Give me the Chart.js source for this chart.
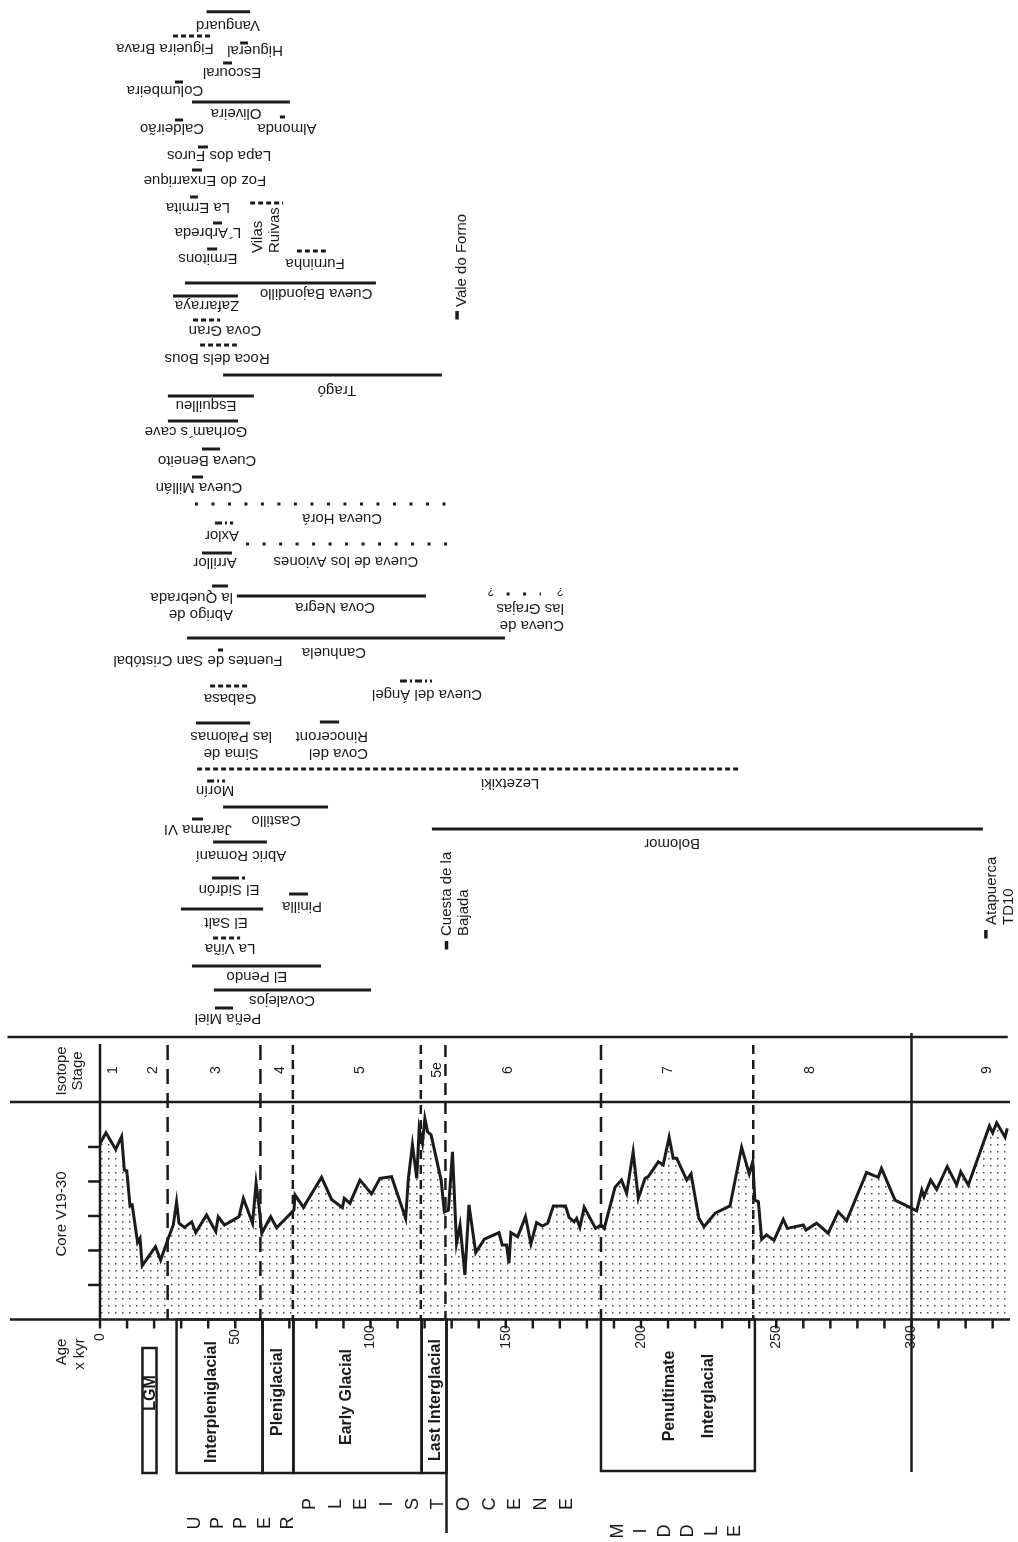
<!DOCTYPE html>
<html><head><meta charset="utf-8">
<script src="https://cdn.jsdelivr.net/npm/chart.js@4.4.1/dist/chart.umd.min.js"></script>
<style>html,body{margin:0;padding:0;background:#fff;}canvas{display:block;}</style>
</head><body>
<canvas id="c" width="1018" height="1542"></canvas>
<script>
// ---------- DATA ----------
// Core V19-30 isotope curve (age in kyr, relative value in tick units)
const coreAges = [0,2.2,5.8,8.0,9.0,9.9,11.1,11.9,13.9,14.8,15.6,20.5,22.4,25.0,27.1,28.3,29.2,31.2,33.9,35.4,39.4,42.8,43.7,46.0,51.4,53.0,56.4,57.7,58.8,59.8,63.1,65.3,71.7,72.1,75.2,81.9,85.6,89.6,90.3,92.4,96.1,100.4,103.5,107.8,113.0,114.0,115.5,117.1,118.0,119.2,120.1,121.1,122.4,126.1,127.3,128.8,130.3,131.8,133.1,134.9,136.4,138.9,142.1,147.5,148.7,150.3,151.2,151.9,154.4,157.3,159.3,161.4,163.5,165.5,167.6,172.1,173.4,175.3,176.2,177.4,179.0,183.2,185.2,186.4,190.4,192.8,194.7,197.1,199.0,201.5,202.7,206.4,208.2,210.4,211.9,213.2,216.9,218.5,221.4,223.3,227.4,232.9,237.2,240.0,241.3,242.1,243.4,244.6,246.4,249.2,252.6,254.1,260.0,261.0,264.9,269.2,272.9,276.0,283.4,287.7,288.9,293.9,299.4,301.9,303.8,304.6,307.1,309.3,313.2,316.7,318.2,321.0,328.8,330.0,331.5,334.6,335.4];
const coreValues = [5.10,5.41,4.93,5.30,4.33,4.31,3.29,3.32,2.23,2.35,1.56,2.11,1.72,2.30,2.74,3.41,2.79,2.67,2.83,2.52,3.03,2.55,2.98,2.74,2.98,3.51,2.79,3.95,3.27,2.50,2.98,2.66,3.17,3.61,3.25,4.12,3.48,3.24,3.51,3.37,4.04,3.64,4.09,4.14,2.93,4.09,5.06,4.09,5.54,5.11,5.83,5.44,5.35,4.04,3.12,3.17,4.86,2.21,2.74,1.29,3.32,1.94,2.33,2.52,2.16,2.16,1.63,2.52,2.40,2.98,2.19,2.81,2.71,2.79,3.29,3.29,2.96,2.83,2.93,2.67,3.25,2.64,2.74,2.64,3.83,4.04,3.66,4.86,3.51,4.09,4.14,4.57,4.48,5.28,4.67,4.67,4.04,4.22,2.93,2.69,3.08,3.29,4.99,4.22,4.57,3.46,3.41,2.32,2.45,2.30,2.90,2.64,2.74,2.59,2.79,2.50,3.12,2.86,4.26,4.12,4.38,3.46,3.25,3.15,3.75,3.56,4.04,3.77,4.43,3.90,4.28,3.90,5.61,5.41,5.70,5.28,5.54];
const coreTicks = [1,2,3,4,5];

// Isotope stages
const stageNames = ['1','2','3','4','5','5e','6','7','8','9'];
const stageLabelAges = [4.8,19.6,43.0,66.5,96.0,124.6,150.8,210.0,262.5,328.0];
const stageBounds = [25.0,59.3,71.3,118.6,127.7,185.2,241.5];
const stageBoundKind = ['long','long','short','short','mid','long','short'];

// Age axis
const ageTickLabels = [0,50,100,150,200,250,300];

// Climatic periods
const periodNames = ['LGM','Interpleniglacial','Pleniglacial','Early Glacial','Last Interglacial','Penultimate|Interglacial'];
const periodFrom = [15.7,28.3,60.1,71.5,118.9,185.2];
const periodTo   = [20.9,60.1,71.5,118.9,128.1,242.1];

// Chronological words
const eraWords = ['UPPER','PLEISTOCENE','MIDDLE'];

// Sites: name, age range (kyr), row in the stack, line style
const siteNames = ['Vanguard','Figueira Brava','Higueral','Escoural','Columbeira','Oliveira','Almonda','Caldeirão','Lapa dos Furos','Foz do Enxarrique','La Ermita','Vilas Ruivas','L\u00B4Arbreda','Ermitons','Furninha','Vale do Forno','Cueva Bajondillo','Zafarraya','Cova Gran','Roca dels Bous','Tragó','Esquilleu','Gorham\u00B4s cave','Cueva Beneito','Cueva Millán','Cueva Horá','Axlor','Cueva de los Aviones','Arrillor','Abrigo de la Quebrada','Cova Negra','Cueva de las Grajas','Canhuela','Fuentes de San Cristóbal','Cueva del Ángel','Gabasa','Sima de las Palomas','Cova del Rinoceront','Lezetxiki','Morín','Castillo','Jarama VI','Bolomor','Abric Romaní','El Sidrón','Pinilla','El Salt','Cuesta de la Bajada','La Viña','El Pendo','Covalejos','Peña Miel','Atapuerca TD10'];
const siteFrom = [39.4,27.0,51.8,45.5,27.7,34.0,66.5,27.7,36.2,34.0,33.3,55.5,41.8,39.6,72.8,132.0,31.4,27.0,34.4,37.0,45.5,25.1,25.1,37.7,34.0,35.1,42.5,54.0,37.7,41.4,50.6,150.3,32.2,43.6,110.9,40.7,35.5,81.3,35.9,39.6,45.5,34.0,122.7,41.8,41.4,69.9,29.9,128.1,41.8,34.0,42.1,42.5,327.5];
const siteTo   = [55.5,40.7,54.7,48.8,30.7,70.2,68.4,30.7,39.9,37.7,36.2,67.7,45.1,43.3,84.3,132.0,102.0,51.0,44.4,50.6,126.4,56.9,51.0,44.4,38.1,130.1,49.2,130.1,48.8,47.3,120.5,163.0,149.7,45.5,122.7,55.5,55.5,88.4,235.9,46.2,84.3,38.1,326.4,61.7,54.7,76.9,60.3,128.1,51.8,81.7,100.2,49.2,327.5];
const siteRow  = [1.17,3.6,4.3,6.3,8.2,10.2,11.7,12.0,14.7,17.0,19.7,20.3,22.3,24.9,25.1,31.1,28.3,29.6,32.0,34.5,37.5,39.6,42.1,44.9,47.7,50.4,52.3,54.4,55.3,58.6,59.6,59.4,63.8,65.0,68.1,68.6,72.3,72.2,76.9,78.1,80.7,81.9,82.9,84.2,87.8,89.4,90.9,94.1,93.8,96.6,99.0,100.8,93.0];
const siteStyle = ['solid','dash','solid','solid','solid','solid','solid','solid','solid','solid','solid','dash','solid','solid','dash','mark','solid','solid','dash','dash','solid','solid','solid','solid','solid','dot','dashdot','dot','solid','solid','solid','dot','solid','solid','dashdot','dash','solid','solid','dash','dashdot','solid','solid','solid','solid','soliddot','solid','solid','mark','dash','solid','solid','solid','mark'];

// ---------- LAYOUT (label placement, not data) ----------
// [rotation, age, row, align, lines]
const siteLabelLayout = [
 ['flip',47.3,2.5,'center'],['flip',24.0,4.8,'center'],['flip',57.3,5.0,'center'],['flip',48.8,7.2,'center'],
 ['flip',24.0,9.0,'center'],['flip',50.3,11.3,'center'],['flip',69.1,12.8,'center'],['flip',26.6,12.8,'center'],
 ['flip',44.0,15.5,'center'],['flip',38.8,18.0,'center'],['flip',36.2,20.7,'center'],
 ['up',58.4,25.3,'left',['Vilas','Ruivas']],
 ['flip',39.9,23.2,'center'],['flip',39.9,25.8,'center'],['flip',79.5,26.3,'center'],
 ['up',133.8,30.7,'left'],
 ['flip',79.9,29.3,'center'],['flip',39.6,30.5,'center'],['flip',46.2,33.0,'center'],['flip',43.3,35.8,'center'],
 ['flip',87.6,39.0,'center'],['flip',39.2,40.5,'center'],['flip',35.5,43.1,'center'],['flip',39.6,46.0,'center'],
 ['flip',36.6,48.7,'center'],['flip',89.5,51.8,'center'],['flip',45.1,53.5,'center'],['flip',90.9,56.1,'center'],
 ['flip',42.5,56.2,'center'],
 ['flip',49.2,59.7,'left',['la Quebrada','Abrigo de']],
 ['flip',86.9,60.7,'center'],
 ['flip',171.5,60.8,'left',['las Grajas','Cueva de']],
 ['flip',86.5,65.2,'center'],['flip',36.2,66.0,'center'],['flip',120.9,69.4,'center'],['flip',48.1,69.8,'center'],
 ['flip',48.5,73.6,'center',['las Palomas','Sima de']],
 ['flip',99.1,73.6,'left',['Rinoceront','Cova del']],
 ['flip',151.6,78.3,'center'],['flip',42.5,79.0,'center'],['flip',65.1,82.0,'center'],['flip',36.2,82.9,'center'],
 ['flip',211.5,84.3,'center'],['flip',52.1,85.5,'center'],['flip',47.7,88.9,'center'],['flip',74.7,90.6,'center'],
 ['flip',46.6,92.2,'center'],
 ['up',128.3,93.6,'left',['Cuesta de la','Bajada']],
 ['flip',48.1,94.8,'center'],['flip',58.0,97.6,'center'],['flip',67.3,100.0,'center'],['flip',47.3,101.8,'center'],
 ['up',329.8,92.5,'left',['Atapuerca','TD10']]
];
const periodLabelAt = [[18.8,139.3],[41.3,140.2],[65.8,139.2],[91.2,139.7],[124.1,140.0],[210.7,139.6]];
const eraLayout = [[35.1,69.5,152.3],[77.6,172.6,150.4],[191.5,234.8,153.1]];

const INK = '#1b1b1b';
const FONT = '"Liberation Sans", Arial, Helvetica, sans-serif';
const dashMap = {solid:[], dash:[5,3], dot:[3,13.5], dashdot:[7,3,2,3], soliddot:[27,3,3,3], mark:[]};

// dotted fill pattern
const pc = document.createElement('canvas'); pc.width = 7; pc.height = 7;
const pctx = pc.getContext('2d'); pctx.fillStyle = '#4a4a4a'; pctx.fillRect(3,3,1.5,1.5);
const canvas = document.getElementById('c');
const pattern = canvas.getContext('2d').createPattern(pc,'repeat');

// ---------- DATASETS ----------
const datasets = [{
  label:'Core V19-30', xAxisID:'x', yAxisID:'yCore',
  data: coreAges.map((a,i)=>({x:a, y:coreValues[i]})),
  borderColor:INK, borderWidth:3, pointRadius:0, tension:0,
  fill:{value:0}, backgroundColor:pattern, borderJoinStyle:'miter'
}];
siteNames.forEach((n,i)=>{
  const mark = siteStyle[i]==='mark';
  datasets.push({
    label:n, xAxisID:'x', yAxisID:'ySite',
    data: mark ? [{x:siteFrom[i],y:siteRow[i]},{x:siteFrom[i],y:siteRow[i]+0.85}]
               : [{x:siteFrom[i],y:siteRow[i]},{x:siteTo[i],y:siteRow[i]}],
    borderColor:INK, borderWidth: mark?3.5:3, borderDash:dashMap[siteStyle[i]],
    borderCapStyle:'butt', pointRadius:0, fill:false, tension:0
  });
});

// ---------- DECORATION PLUGIN ----------
function seg(ctx,x1,y1,x2,y2){ctx.beginPath();ctx.moveTo(x1,y1);ctx.lineTo(x2,y2);ctx.stroke();}
function txt(ctx,s,x,y,rot,align,font){
  ctx.save(); ctx.translate(x,y); ctx.rotate(rot); ctx.font=font; ctx.textAlign=align;
  ctx.textBaseline='middle'; ctx.fillStyle=INK; ctx.fillText(s,0,0); ctx.restore();
}
const decor = {
  id:'decor',
  beforeDatasetsDraw(chart){
    const ctx=chart.ctx, X=v=>chart.scales.x.getPixelForValue(v),
          R=v=>chart.scales.ySite.getPixelForValue(v), C=v=>chart.scales.yCore.getPixelForValue(v);
    ctx.save(); ctx.strokeStyle=INK; ctx.lineWidth=2.5; ctx.lineCap='butt';
    // band lines
    seg(ctx,X(-34.2),R(103.7),X(335.6),R(103.7));
    seg(ctx,X(-33.3),R(110.2),X(336.4),R(110.2));
    seg(ctx,X(-33.3),C(0),X(336.4),C(0));
    // core axis and ticks
    seg(ctx,X(0),R(104.4),X(0),C(0));
    coreTicks.forEach(v=>seg(ctx,X(-4.4),C(v),X(0),C(v)));
    // age ticks
    for(let a=0;a<=330;a+=10) seg(ctx,X(a),C(0),X(a),C(0)+9);
    // stage boundaries
    const dk={long:[15,9],short:[9,6],mid:[12,7]};
    stageBounds.forEach((b,i)=>{ctx.setLineDash(dk[stageBoundKind[i]]); seg(ctx,X(b),R(104.5),X(b),C(0));});
    ctx.setLineDash([]);
    // 300 kyr boundary
    seg(ctx,X(300),R(103.3),X(300),R(147.2));
    // period boxes
    periodNames.forEach((p,i)=>{
      const top = i===0 ? R(134.8) : C(0);
      const bot = i===5 ? R(147.1) : R(147.3);
      ctx.strokeRect(X(periodFrom[i]),top,X(periodTo[i])-X(periodFrom[i]),bot-top);
    });
    // upper / middle separator
    seg(ctx,X(128.1),C(0),X(128.1),R(153.3));
    ctx.restore();
  },
  afterDatasetsDraw(chart){
    const ctx=chart.ctx, X=v=>chart.scales.x.getPixelForValue(v),
          R=v=>chart.scales.ySite.getPixelForValue(v), C=v=>chart.scales.yCore.getPixelForValue(v);
    const up=-Math.PI/2, flip=Math.PI;
    const f15='15px '+FONT, f14='14px '+FONT, fb='bold 16px '+FONT;
    // header labels
    txt(ctx,'Isotope',X(-14.0),R(107.1),up,'center','15px '+FONT);
    txt(ctx,'Stage',X(-8.1),R(107.1),up,'center','15px '+FONT);
    txt(ctx,'Core V19-30',X(-14.0),R(121.4),up,'center',f15);
    txt(ctx,'Age',X(-14.0),R(135.2),up,'center',f15);
    txt(ctx,'x kyr',X(-7.4),R(135.4),up,'center',f15);
    // stage names
    stageNames.forEach((s,i)=>txt(ctx,s,X(stageLabelAges[i]),R(107.0),up,'center',f14));
    // age labels
    ageTickLabels.forEach(a=>txt(ctx,String(a),X(a),R(133.7),up,'center',f14));
    // period labels
    periodNames.forEach((p,i)=>{
      const parts=p.split('|');
      parts.forEach((s,k)=>txt(ctx,s,X(periodLabelAt[i][0])+k*39,R(periodLabelAt[i][1]),up,'center',fb));
    });
    // era letters
    eraWords.forEach((w,i)=>{
      const [a0,a1,row]=eraLayout[i]; const n=w.length;
      for(let k=0;k<n;k++){ const a=a0+(a1-a0)*k/(n-1); txt(ctx,w[k],X(a),R(row),up,'center','18px '+FONT); }
    });
    // site labels
    siteNames.forEach((n,i)=>{
      const L=siteLabelLayout[i]; const lines=L[4]||[n];
      lines.forEach((s,k)=>{
        if(L[0]==='flip') txt(ctx,s,X(L[1]),R(L[2])+k*17,flip,L[3],f15);
        else txt(ctx,s,X(L[1])+k*16.5,R(L[2]),up,L[3],f15);
      });
    });
    // question marks for Cueva de las Grajas
    const g=siteNames.indexOf('Cueva de las Grajas');
    txt(ctx,'?',X(siteFrom[g]-5.8),R(siteRow[g]-0.3),flip,'center','11px '+FONT);
    txt(ctx,'?',X(siteTo[g]+7.1),R(siteRow[g]-0.3),flip,'center','11px '+FONT);
  }
};

new Chart(canvas,{
  type:'line',
  data:{datasets},
  options:{
    responsive:false, animation:false, events:[],
    layout:{padding:0},
    plugins:{legend:{display:false},tooltip:{enabled:false}},
    scales:{
      x:{type:'linear',min:-36.97,max:339.37,display:false},
      ySite:{type:'linear',reverse:true,min:0,max:154.2,display:false},
      yCore:{type:'linear',min:-6.45,max:38.246,display:false}
    }
  },
  plugins:[decor]
});
</script>
</body></html>
